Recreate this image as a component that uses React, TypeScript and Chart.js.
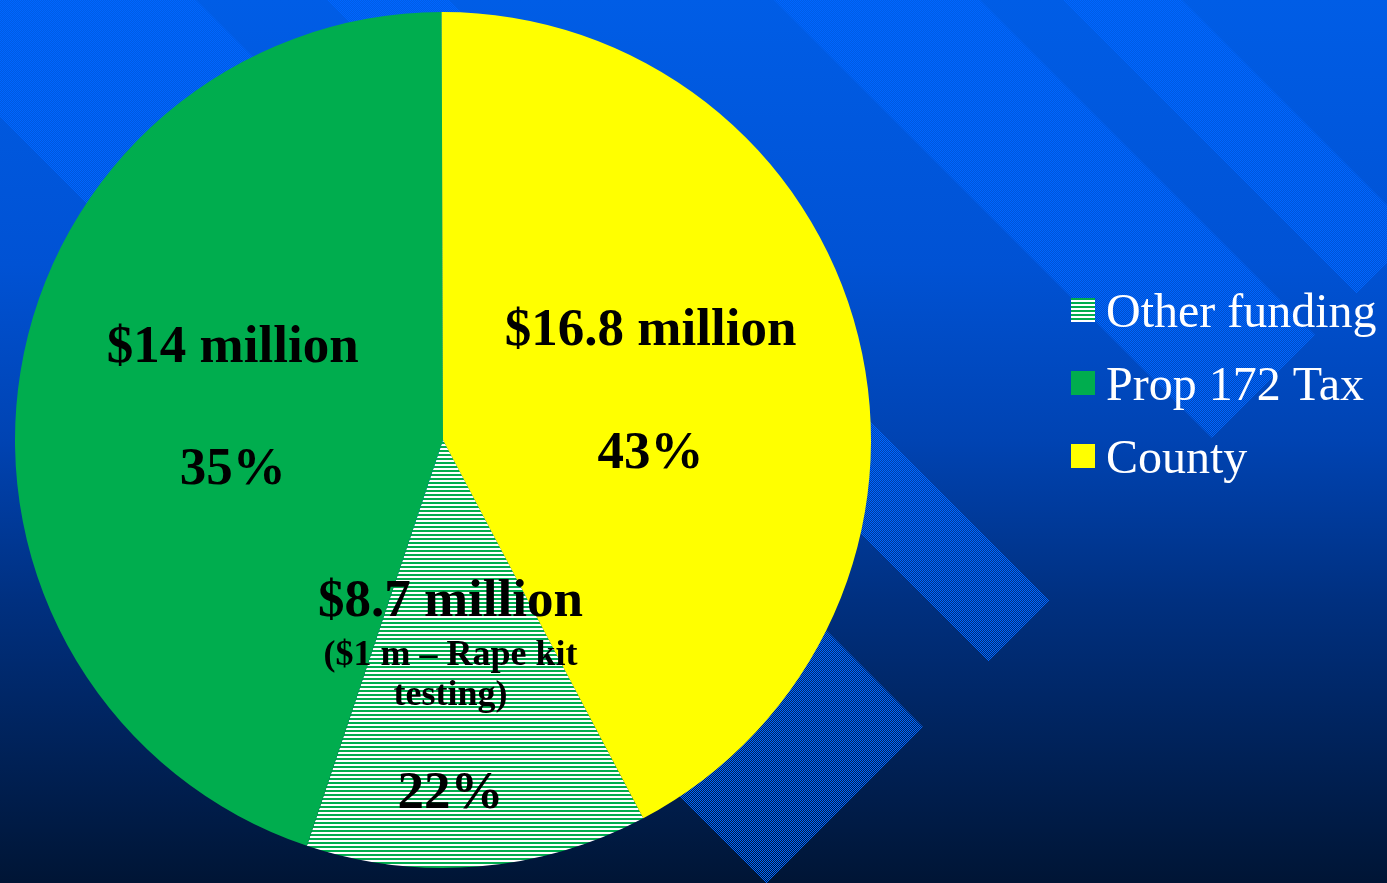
import React, { useEffect, useRef } from "react";
import { Chart, registerables } from "chart.js";

Chart.register(...registerables);

// ---- data ----
const categories = ["Other funding", "Prop 172 Tax", "County"];
const amountLabels = ["$8.7 million", "$14 million", "$16.8 million"];
const noteLines = [["($1 m – Rape kit", "testing)"], [], []];
const percentLabels = ["22%", "35%", "43%"];
// slice sizes as they are drawn in the picture (share of the circle, %)
const sliceShares = [12.9, 44.8, 42.3];
const startAngle = 152.1;

// ---- styling ----
const GREEN = "#00AD4E";
const YELLOW = "#FFFF00";
const SERIF = "'Liberation Serif', 'Times New Roman', serif";
const W = 1387;
const H = 883;

// decorative background bands: 45deg stripes (x - y between a and b), ending at x + y = BAND_END
const bandRanges = [
  [-117, 196],
  [327, 449],
  [774, 980],
  [1063, 1182],
];
const BAND_END = 1650;

// label layout per slice: dx, and dy of each line relative to the slice centroid
const labelLayout = [
  { dx: -10, amount: -51, notes: [2, 42], pct: 141, noteSize: 36 },
  { dx: 1, amount: -58, notes: [], pct: 64, noteSize: 36 },
  { dx: 0, amount: -57, notes: [], pct: 66, noteSize: 36 },
];

export default function App() {
  const ref = useRef<HTMLCanvasElement | null>(null);

  useEffect(() => {
    const canvas = ref.current;
    if (!canvas) return;
    const ctx = canvas.getContext("2d")!;

    const pc = document.createElement("canvas");
    pc.width = 4;
    pc.height = 4;
    const pg = pc.getContext("2d")!;
    pg.fillStyle = "#ffffff";
    pg.fillRect(0, 0, 4, 4);
    pg.fillStyle = GREEN;
    pg.fillRect(0, 2, 4, 2);
    const stripes = ctx.createPattern(pc, "repeat")!;

    const cc = document.createElement("canvas");
    cc.width = 2;
    cc.height = 2;
    const cg = cc.getContext("2d")!;
    cg.fillStyle = "rgb(0,102,255)";
    cg.fillRect(0, 0, 1, 1);
    cg.fillRect(1, 1, 1, 1);
    const checker = ctx.createPattern(cc, "repeat")!;

    const colors = [stripes, GREEN, YELLOW];

    const backgroundPlugin = {
      id: "slideBackground",
      beforeDraw(chart: any) {
        const c = chart.ctx;
        c.save();
        const g = c.createLinearGradient(0, 0, 0, H);
        g.addColorStop(0, "#005DE6");
        g.addColorStop(0.3, "#0052D4");
        g.addColorStop(0.5, "#0043B2");
        g.addColorStop(0.68, "#003080");
        g.addColorStop(1, "#001535");
        c.fillStyle = g;
        c.fillRect(0, 0, W, H);
        c.fillStyle = checker;
        for (const [a, b] of bandRanges) {
          const vmin = -3000;
          const pts = [
            [a, vmin],
            [b, vmin],
            [b, BAND_END],
            [a, BAND_END],
          ].map(([u, v]) => [(u + v) / 2, (v - u) / 2]);
          c.beginPath();
          c.moveTo(pts[0][0], pts[0][1]);
          for (let i = 1; i < pts.length; i++) c.lineTo(pts[i][0], pts[i][1]);
          c.closePath();
          c.fill();
        }
        c.restore();
      },
    };

    const labelPlugin = {
      id: "sliceLabels",
      afterDatasetsDraw(chart: any) {
        const c = chart.ctx;
        const meta = chart.getDatasetMeta(0);
        c.save();
        c.fillStyle = "#000000";
        c.textAlign = "center";
        c.textBaseline = "middle";
        meta.data.forEach((arc: any, i: number) => {
          const p = arc.tooltipPosition();
          const L = labelLayout[i];
          const x = p.x + L.dx;
          c.font = `bold 53px ${SERIF}`;
          c.fillText(amountLabels[i], x, p.y + L.amount);
          c.font = `bold ${L.noteSize}px ${SERIF}`;
          noteLines[i].forEach((t, j) => c.fillText(t, x, p.y + L.notes[j]));
          c.font = `bold 53px ${SERIF}`;
          c.fillText(percentLabels[i], x, p.y + L.pct);
        });
        c.restore();
      },
    };

    const legendPlugin = {
      id: "sideLegend",
      afterDraw(chart: any) {
        const c = chart.ctx;
        c.save();
        c.textAlign = "left";
        c.textBaseline = "alphabetic";
        c.font = `48px ${SERIF}`;
        chart.data.labels.forEach((label: string, i: number) => {
          const base = 327 + i * 73;
          c.fillStyle = chart.data.datasets[0].backgroundColor[i];
          c.fillRect(1071, base - 29, 24, 24);
          c.fillStyle = "#ffffff";
          c.fillText(label, 1106, base);
        });
        c.restore();
      },
    };

    const chart = new Chart(canvas, {
      type: "pie",
      data: {
        labels: categories,
        datasets: [
          {
            data: sliceShares,
            backgroundColor: colors as any,
            borderWidth: 0,
          },
        ],
      },
      options: {
        animation: false,
        responsive: false,
        rotation: startAngle,
        layout: { padding: { left: 15, top: 12, right: 516, bottom: 15 } },
        plugins: {
          legend: { display: false },
          tooltip: { enabled: false },
        },
      },
      plugins: [backgroundPlugin, labelPlugin, legendPlugin],
    });

    return () => chart.destroy();
  }, []);

  return (
    <div style={{ position: "fixed", left: 0, top: 0, width: W, height: H }}>
      <canvas ref={ref} width={W} height={H} style={{ display: "block", width: W, height: H }} />
    </div>
  );
}
